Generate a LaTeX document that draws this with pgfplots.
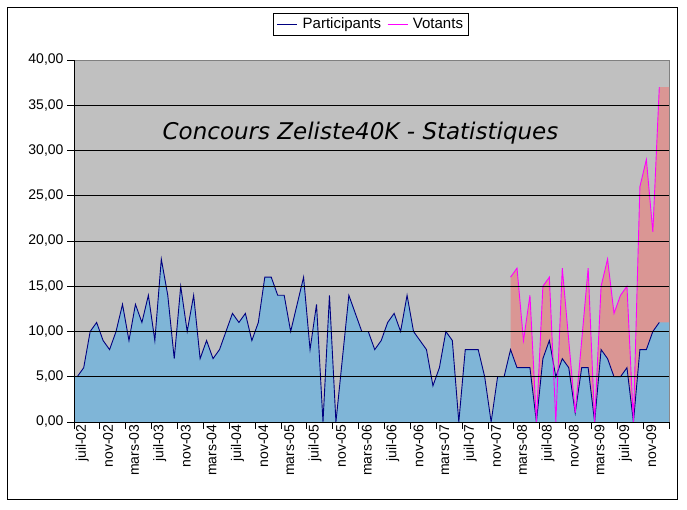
\documentclass[border=0pt]{standalone}
\usepackage{pgfplots}
\pgfplotsset{compat=1.18}
\usepackage{pgfplotstable}
\usepackage{fontspec}
\setmainfont{Liberation Sans}
\newfontfamily\titlefont{DejaVu Sans}
\definecolor{plotbg}{RGB}{192,192,192}
\definecolor{partfill}{RGB}{127,181,215}
\definecolor{votfill}{RGB}{218,150,148}
\definecolor{partline}{RGB}{0,0,128}
\definecolor{votline}{RGB}{255,0,255}
\definecolor{plotborder}{RGB}{128,128,128}

\pgfplotstableread{
x y
-0.5 5
0 5
1 6
2 10
3 11
4 9
5 8
6 10
7 13
8 9
9 13
10 11
11 14
12 9
13 18
14 14
15 7
16 15
17 10
18 14
19 7
20 9
21 7
22 8
23 10
24 12
25 11
26 12
27 9
28 11
29 16
30 16
31 14
32 14
33 10
34 13
35 16
36 8
37 13
38 0
39 14
40 0
41 7
42 14
43 12
44 10
45 10
46 8
47 9
48 11
49 12
50 10
51 14
52 10
53 9
54 8
55 4
56 6
57 10
58 9
59 0
60 8
61 8
62 8
63 5
64 0
65 5
66 5
67 8
68 6
69 6
70 6
71 0
72 7
73 9
74 5
75 7
76 6
77 1
78 6
79 6
80 0
81 8
82 7
83 5
84 5
85 6
86 0
87 8
88 8
89 10
90 11
91.5 11
}\participants

\pgfplotstableread{
x y
67 16
68 17
69 9
70 14
71 0
72 15
73 16
74 0
75 17
76 9
77 1
78 9
79 17
80 0
81 15
82 18
83 12
84 14
85 15
86 0
87 26
88 29
89 21
90 37
91.5 37
}\votants

\begin{document}
\begin{tikzpicture}[x=1pt,y=1pt]
\useasboundingbox (0,0) rectangle (687,510);
\draw[black, line width=1pt] (7,10) rectangle (677,502);
\begin{axis}[
  at={(74pt,88pt)}, anchor=south west,
  width=595pt, height=362pt, scale only axis,
  xmin=-0.5, xmax=91.5, ymin=0, ymax=40,
  axis x line*=bottom, axis y line*=left,
  axis line style={black, line width=0.8pt},
  axis background/.style={fill=plotbg, draw=plotborder, line width=0.8pt},
  axis on top,
  tick align=outside,
  major tick length=7pt,
  tick style={black, line width=0.8pt},
  ytick={0,5,...,35},
  extra y ticks={40},
  extra y tick style={grid=none},
  ymajorgrids,
  major grid style={black, line width=0.8pt},
  /pgf/number format/fixed,
  /pgf/number format/fixed zerofill,
  /pgf/number format/precision=2,
  /pgf/number format/use comma,
  /pgf/number format/assume math mode=true,
  tick label style={font=\fontsize{14}{16}\selectfont},
  yticklabel style={anchor=east},
  xtick={-0.5,3.5,...,91.5},
  xticklabels={,,},
  extra x ticks={0,4,...,88},
  extra x tick labels={juil-02,nov-02,mars-03,juil-03,nov-03,mars-04,juil-04,nov-04,mars-05,juil-05,nov-05,mars-06,juil-06,nov-06,mars-07,juil-07,nov-07,mars-08,juil-08,nov-08,mars-09,juil-09,nov-09},
  extra x tick style={major tick length=0pt, xticklabel style={rotate=90, anchor=east, yshift=-5pt, xshift=1pt}},
  legend columns=2,
  legend style={at={(axis description cs:0.499,1.099)}, anchor=center,
    draw=black, line width=0.8pt, fill=white,
    font=\fontsize{15}{17}\selectfont,
    inner xsep=3pt, inner ysep=3pt,
    /tikz/every odd column/.append style={column sep=3pt},
    /tikz/every even column/.append style={column sep=4pt}},
  legend image code/.code={\draw[#1] (0pt,0pt) -- (20pt,0pt);},
]
\addplot[fill=votfill, draw=none, forget plot] table {\votants} \closedcycle;
\addplot[fill=partfill, draw=none, forget plot] table {\participants} \closedcycle;
\addplot[partline, line width=0.9pt, restrict x to domain=0:90] table {\participants};
\addlegendentry{Participants}
\addplot[votline, line width=0.9pt, restrict x to domain=0:90] table {\votants};
\addlegendentry{Votants}
\node[font=\titlefont\itshape\fontsize{23}{26}\selectfont, anchor=base] at (axis description cs:0.4815,0.779) {Concours Zeliste40K - Statistiques};
\end{axis}
\end{tikzpicture}
\end{document}
